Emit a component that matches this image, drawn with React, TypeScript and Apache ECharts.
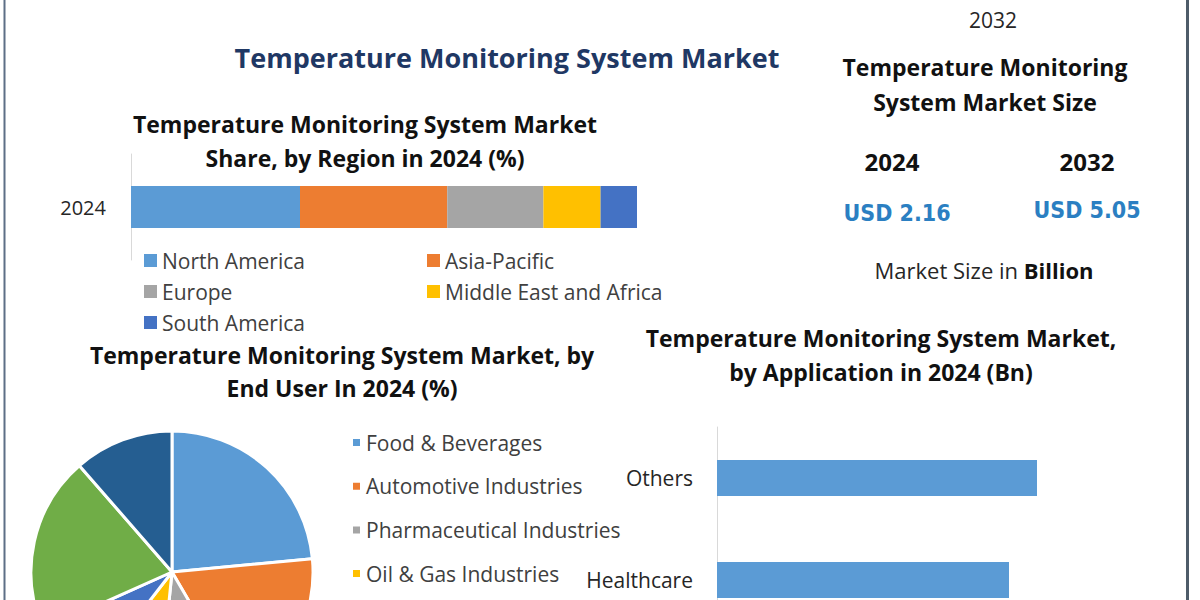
import React, { useEffect, useRef } from "react";
import * as echarts from "echarts";

// ---------- data ----------
const regionCategory = ["2024"];
const regionNames = ["North America", "Asia-Pacific", "Europe", "Middle East and Africa", "South America"];
const regionShares = [33.4, 29.1, 19.0, 11.3, 7.2];
const regionColors = ["#5b9bd5", "#ed7d31", "#a5a5a5", "#ffc000", "#4472c4"];

const endUserNames = [
  "Food & Beverages",
  "Automotive Industries",
  "Pharmaceutical Industries",
  "Oil & Gas Industries",
  "Chemical Industries",
  "Healthcare",
  "Others",
];
const endUserShares = [23.5, 18.1, 10.0, 8.9, 7.8, 20.3, 11.4];
const endUserColors = ["#5b9bd5", "#ed7d31", "#a5a5a5", "#ffc000", "#4472c4", "#70ad47", "#255e91"];
const endUserLegendVisible = endUserNames.slice(0, 4);

const applicationNames = ["Others", "Healthcare"];
const applicationValues = [0.64, 0.584];

const sizeYears = ["2024", "2032"];
const sizeValues = ["USD 2.16", "USD 5.05"];

const FONT = "'Open Sans', Lato, sans-serif";
const NARROW = "'Liberation Sans Narrow', 'DejaVu Sans Condensed', 'Arial Narrow', sans-serif";

function txt(x: number, y: number, text: string, size: number, weight: string, color: string, family = FONT) {
  return {
    type: "text",
    x,
    y,
    style: {
      text,
      fill: color,
      font: `${weight} ${size}px ${family}`,
      textAlign: "center",
      textVerticalAlign: "middle",
      verticalAlign: "middle",
    },
  };
}

export default function App() {
  const ref = useRef<HTMLDivElement>(null);

  useEffect(() => {
    if (!ref.current) return;
    const chart = echarts.init(ref.current, undefined, { renderer: "svg" });

    const regionSeries = regionNames.map((name, i) => ({
      type: "bar",
      name,
      stack: "region",
      xAxisIndex: 0,
      yAxisIndex: 0,
      barWidth: 42,
      itemStyle: { color: regionColors[i] },
      data: [regionShares[i]],
    }));

    const titleColor = "#111111";
    const legendText = { fontSize: 21, lineHeight: 20, color: "#404040", fontFamily: FONT };
    const option: any = {
      animation: false,
      backgroundColor: "#ffffff",
      grid: [
        { left: 131, top: 154, width: 506, height: 106, containLabel: false },
        { left: 717, top: 427, width: 400, height: 204, containLabel: false },
      ],
      xAxis: [
        { type: "value", gridIndex: 0, min: 0, max: 100, show: false },
        { type: "value", gridIndex: 1, min: 0, max: 0.8, show: false },
      ],
      yAxis: [
        {
          type: "category",
          gridIndex: 0,
          data: regionCategory,
          axisLine: { show: true, lineStyle: { color: "#d9d9d9", width: 1 } },
          axisTick: { show: false },
          axisLabel: { margin: 25, fontSize: 20, color: "#262626", fontFamily: FONT },
        },
        {
          type: "category",
          gridIndex: 1,
          inverse: true,
          data: applicationNames,
          axisLine: { show: true, lineStyle: { color: "#d9d9d9", width: 1 } },
          axisTick: { show: false },
          axisLabel: { margin: 24, fontSize: 21, color: "#262626", fontFamily: FONT },
        },
      ],
      legend: [
        {
          data: [regionNames[0], regionNames[2], regionNames[4]],
          orient: "vertical",
          left: 139,
          top: 245,
          itemWidth: 13,
          itemHeight: 13,
          itemGap: 10,
          icon: "rect",
          selectedMode: false,
          textStyle: legendText,
        },
        {
          data: [regionNames[1], regionNames[3]],
          orient: "vertical",
          left: 422,
          top: 245,
          itemWidth: 13,
          itemHeight: 13,
          itemGap: 10,
          icon: "rect",
          selectedMode: false,
          textStyle: legendText,
        },
        {
          data: endUserLegendVisible,
          orient: "vertical",
          left: 346,
          top: 427,
          itemWidth: 9,
          itemHeight: 9,
          itemGap: 22.7,
          icon: "rect",
          selectedMode: false,
          textStyle: legendText,
        },
      ],
      series: [
        ...regionSeries,
        {
          type: "bar",
          name: "Application",
          xAxisIndex: 1,
          yAxisIndex: 1,
          barWidth: 36,
          itemStyle: { color: "#5b9bd5" },
          data: applicationValues,
        },
        {
          type: "pie",
          name: "End User",
          center: [172, 572],
          radius: 141,
          startAngle: 90,
          clockwise: true,
          label: { show: false },
          labelLine: { show: false },
          itemStyle: { borderColor: "#ffffff", borderWidth: 3 },
          data: endUserNames.map((name, i) => ({
            name,
            value: endUserShares[i],
            itemStyle: { color: endUserColors[i] },
          })),
        },
      ],
      graphic: [
        // frame
        { type: "line", shape: { x1: 4.5, y1: 0, x2: 4.5, y2: 720 }, style: { stroke: "#5d6f86", lineWidth: 2 } },
        { type: "line", shape: { x1: 1187.5, y1: 0, x2: 1187.5, y2: 720 }, style: { stroke: "#4e5c69", lineWidth: 3 } },
        // top right text
        txt(993, 20, "2032", 21, "normal", "#262626"),
        // main title
        txt(507, 57, "Temperature Monitoring System Market", 27, "bold", "#1f3864"),
        // region title
        txt(365, 124, "Temperature Monitoring System Market", 23, "bold", titleColor),
        txt(365, 158, "Share, by Region in 2024 (%)", 23, "bold", titleColor),
        // market size panel
        txt(985, 67, "Temperature Monitoring", 23, "bold", titleColor),
        txt(985, 102, "System Market Size", 23, "bold", titleColor),
        txt(892, 161, sizeYears[0], 24, "bold", titleColor),
        txt(1087, 161, sizeYears[1], 24, "bold", titleColor),
        txt(897, 213, sizeValues[0], 23, "bold", "#2b7fc2", NARROW),
        txt(1087, 210, sizeValues[1], 23, "bold", "#2b7fc2", NARROW),
        {
          type: "text",
          x: 984,
          y: 270,
          style: {
            text: "{a|Market Size in }{b|Billion}",
            textAlign: "center",
            textVerticalAlign: "middle",
            verticalAlign: "middle",
            rich: {
              a: { fontSize: 22, fontFamily: FONT, fill: "#262626", color: "#262626" },
              b: { fontSize: 22, fontFamily: FONT, fontWeight: "bold", fill: "#111111", color: "#111111" },
            },
          },
        },
        // pie title
        txt(342, 355, "Temperature Monitoring System Market, by", 23, "bold", titleColor),
        txt(342, 388, "End User In 2024 (%)", 23, "bold", titleColor),
        // application title
        txt(881, 338, "Temperature Monitoring System Market,", 23, "bold", titleColor),
        txt(881, 372, "by Application in 2024 (Bn)", 23, "bold", titleColor),
      ],
    };

    chart.setOption(option);
    return () => chart.dispose();
  }, []);

  return (
    <div style={{ position: "absolute", left: 0, top: 0, width: 1200, height: 600, overflow: "hidden", background: "#fff" }}>
      <div ref={ref} style={{ width: 1200, height: 720 }} />
    </div>
  );
}
